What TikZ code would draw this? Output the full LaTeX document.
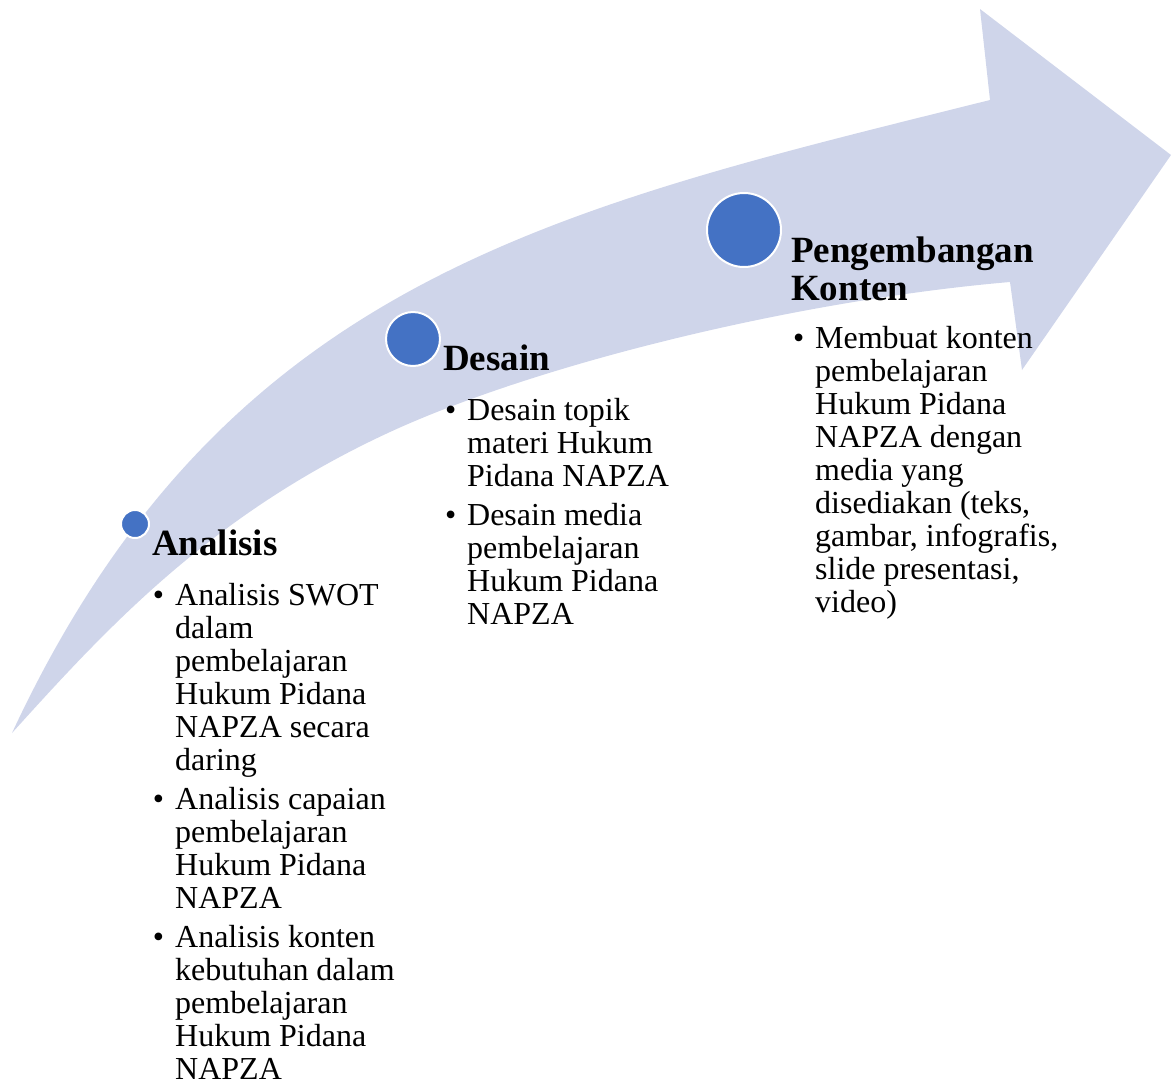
\documentclass[tikz,border=0pt]{standalone}
\usepackage{fontspec}
\setmainfont{Liberation Serif}
\definecolor{band}{RGB}{207,213,234}
\definecolor{dotblue}{RGB}{68,114,196}
\begin{document}
\begin{tikzpicture}[x=1pt,y=-1pt,
  dotstyle/.style={circle,fill=dotblue,draw=white,line width=2pt,inner sep=0pt},
  head/.style={anchor=base west,inner sep=0pt,font=\fontsize{37}{38}\selectfont\bfseries,align=left},
  body/.style={anchor=base west,inner sep=0pt,font=\fontsize{32}{33}\selectfont,align=left}]
\useasboundingbox (0,0) rectangle (1171,1080);
\fill[band] (12,733) .. controls (223,280) and (553,209) .. (990,100)
  -- (980,9) -- (1171,155) -- (1022,370) -- (1010,282)
  .. controls (800,300) and (540,363) .. (390,432)
  .. controls (210,515) and (106,629) .. (12,733) -- cycle;
\node[dotstyle,minimum size=28pt] (c1) at (135,524) {};
\node[dotstyle,minimum size=54pt] (c2) at (413,339) {};
\node[dotstyle,minimum size=74pt] (c3) at (744,230) {};
\node[head] (h1) at (152,555) {Analisis};
\node[head] (h2) at (443,370) {Desain};
\node[head] (h3) at (791,300) {Pengembangan\\Konten};
\node[body] (t1) at (175,1079) {\llap{•\hspace{11pt}}Analisis SWOT\\dalam\\pembelajaran\\Hukum Pidana\\NAPZA secara\\daring\\[6pt]\llap{•\hspace{11pt}}Analisis capaian\\pembelajaran\\Hukum Pidana\\NAPZA\\[6pt]\llap{•\hspace{11pt}}Analisis konten\\kebutuhan dalam\\pembelajaran\\Hukum Pidana\\NAPZA};
\node[body] (t2) at (467,624) {\llap{•\hspace{11pt}}Desain topik\\materi Hukum\\Pidana NAPZA\\[6pt]\llap{•\hspace{11pt}}Desain media\\pembelajaran\\Hukum Pidana\\NAPZA};
\node[body] (t3) at (815,612) {\llap{•\hspace{11pt}}Membuat konten\\pembelajaran\\Hukum Pidana\\NAPZA dengan\\media yang\\disediakan (teks,\\gambar, infografis,\\slide presentasi,\\video)};
\end{tikzpicture}
\end{document}
